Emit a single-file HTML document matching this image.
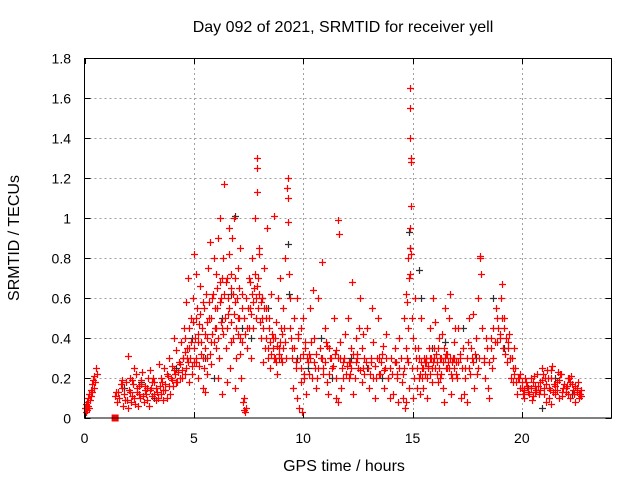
<!DOCTYPE html>
<html><head><meta charset="utf-8"><style>
body{margin:0;background:#fff;}
svg text{font-family:"Liberation Sans",sans-serif;font-size:14px;fill:#000;}
svg text.big{font-size:16px;}
</style></head><body>
<svg id="chart" width="640" height="480" viewBox="0 0 640 480" xmlns="http://www.w3.org/2000/svg">
<rect width="640" height="480" fill="#fff"/>
<text class="big" x="343" y="32" text-anchor="middle">Day 092 of 2021, SRMTID for receiver yell</text>
<text class="big" x="344" y="471" text-anchor="middle">GPS time / hours</text>
<text class="big" transform="translate(19,238) rotate(-90)" text-anchor="middle">SRMTID / TECUs</text>
<g id="grid"></g><g id="ticks"></g><g id="marks"></g>
<rect x="84.5" y="58.5" width="527" height="359.5" fill="none" stroke="#000" stroke-width="1"/>
</svg>
<script>
const xTicks=[0,5,10,15,20];
const yTicks=[0,0.2,0.4,0.6,0.8,1,1.2,1.4,1.6,1.8];
const yTickLabels=["0","0.2","0.4","0.6","0.8","1","1.2","1.4","1.6","1.8"];
const redHours=[0.02,0.05,0.08,0.1,0.12,0.15,0.18,0.2,0.22,0.25,0.28,0.3,0.33,0.36,0.4,0.42,0.45,0.5,0.52,0.55,
1.4,1.5,1.55,1.6,1.7,1.75,1.8,1.9,1.95,2.0,2.05,2.1,2.15,2.2,2.3,2.35,2.4,2.5,2.55,2.6,2.7,2.75,2.8,2.9,2.95,3.0,3.05,3.1,3.2,3.25,3.3,3.4,3.45,3.5,2.0,2.25,2.45,2.65,2.85,3.15,
3.55,3.6,3.65,3.7,3.8,3.85,3.9,3.95,4.0,4.05,4.1,4.15,4.2,4.25,4.3,4.35,4.4,4.45,4.5,3.75,
4.55,4.6,4.65,4.7,4.75,4.8,4.85,4.9,4.95,5.0,5.05,5.1,5.15,5.2,5.25,5.3,5.35,5.4,5.45,5.5,5.55,5.6,5.65,5.7,5.75,5.8,5.85,5.9,5.95,6.0,4.6,4.8,5.0,5.2,5.4,5.6,5.8,6.0,5.1,5.5,
6.05,6.1,6.15,6.2,6.25,6.3,6.35,6.4,6.45,6.5,6.55,6.6,6.65,6.7,6.75,6.8,6.85,6.9,6.95,7.0,7.05,7.1,7.15,7.2,7.25,7.3,7.35,7.4,7.45,7.5,6.1,6.3,6.5,6.7,6.9,7.1,7.3,6.2,6.6,7.0,
7.55,7.6,7.65,7.7,7.75,7.8,7.85,7.9,7.95,8.0,8.05,8.1,8.15,8.2,8.25,8.3,8.35,8.4,8.45,8.5,8.55,8.6,8.65,8.7,8.75,8.8,8.85,8.9,8.95,9.0,9.05,9.1,9.15,9.2,9.25,9.3,9.35,9.4,9.45,7.9,7.9,9.3,9.3,8.0,
9.5,9.55,9.6,9.65,9.7,9.75,9.8,9.85,9.9,9.95,10.0,10.05,10.1,10.15,10.2,10.3,10.4,10.5,10.6,10.7,10.8,10.9,11.0,11.1,11.2,11.3,11.4,11.5,11.6,11.65,11.7,11.8,11.9,12.0,9.7,9.9,10.25,10.55,10.85,11.15,11.45,11.75,10.45,11.05,11.6,
12.05,12.1,12.2,12.3,12.4,12.5,12.6,12.7,12.8,12.9,13.0,13.1,13.2,13.3,13.4,13.5,13.6,13.7,13.8,13.9,14.0,14.1,14.2,14.3,14.4,14.5,12.15,12.45,12.75,13.05,13.35,13.65,13.95,14.25,12.55,13.15,13.75,14.35,12.25,13.45,
14.55,14.6,14.65,14.7,14.75,14.8,14.85,14.9,14.9,14.9,14.92,14.92,14.95,15.0,15.05,15.1,15.15,15.2,14.6,14.7,14.8,14.85,14.95,15.0,15.1,14.75,14.88,14.9,14.9,14.97,
15.25,15.3,15.4,15.5,15.6,15.7,15.8,15.9,16.0,16.1,16.2,16.3,16.4,16.5,16.6,16.7,16.8,16.9,17.0,15.35,15.55,15.75,15.95,16.15,16.35,16.55,16.75,16.95,15.45,15.85,16.25,16.65,16.45,16.05,15.65,16.85,
17.05,17.1,17.2,17.3,17.4,17.5,17.6,17.7,17.8,17.9,18.0,18.05,18.1,18.15,18.2,18.3,18.4,18.5,18.6,18.7,18.8,18.9,19.0,19.05,19.1,19.15,19.2,19.3,19.4,19.5,17.15,17.35,17.55,17.75,17.95,18.25,18.45,18.65,18.85,19.25,19.45,18.1,17.65,19.35,
19.55,19.6,19.7,19.8,19.9,20.0,20.1,20.2,20.3,20.4,20.5,20.6,20.7,20.8,20.9,21.0,21.1,21.2,21.3,21.4,21.5,21.6,21.7,21.8,21.9,22.0,22.1,22.2,22.3,22.4,22.5,22.6,22.7,19.65,19.85,20.05,20.25,20.45,20.65,20.85,21.05,21.25,21.45,21.65,21.85,22.05,22.25,22.45,22.65,21.35];
const redTecu=[0.05,0.03,0.07,0.04,0.08,0.06,0.1,0.05,0.12,0.09,0.14,0.11,0.17,0.13,0.19,0.15,0.21,0.18,0.25,0.22,
0.11,0.08,0.13,0.1,0.15,0.06,0.12,0.18,0.09,0.31,0.14,0.2,0.11,0.17,0.07,0.22,0.13,0.16,0.1,0.19,0.08,0.14,0.12,0.2,0.06,0.24,0.15,0.11,0.18,0.09,0.13,0.27,0.16,0.12,0.05,0.25,0.06,0.23,0.15,0.2,
0.18,0.09,0.25,0.14,0.21,0.3,0.12,0.2,0.26,0.16,0.4,0.22,0.34,0.18,0.28,0.2,0.38,0.24,0.3,0.1,
0.45,0.22,0.58,0.3,0.7,0.35,0.5,0.26,0.6,0.82,0.4,0.28,0.55,0.2,0.47,0.66,0.32,0.58,0.25,0.42,0.62,0.3,0.75,0.5,0.88,0.38,0.6,0.8,0.45,0.72,0.33,0.18,0.28,0.38,0.15,0.22,0.27,0.35,0.72,0.13,
0.55,0.9,0.3,1.0,0.6,0.45,0.8,1.17,0.35,0.7,0.52,0.95,0.25,0.65,0.9,0.4,1.0,0.58,0.3,0.75,0.5,0.85,0.2,0.62,0.08,0.04,0.03,0.05,0.45,0.7,0.2,0.12,0.18,0.38,0.15,0.32,0.1,0.68,0.82,0.42,
0.55,0.3,0.8,0.45,0.65,1.0,0.5,1.3,0.7,0.85,0.4,0.6,0.28,0.75,0.35,0.55,0.95,0.3,0.5,0.25,0.62,0.4,1.01,0.3,0.48,0.22,0.6,0.35,0.7,0.45,0.28,0.55,0.8,0.3,1.15,1.2,0.72,0.6,0.4,1.25,1.13,1.1,0.98,0.82,
0.35,0.15,0.5,0.25,0.1,0.42,0.05,0.3,0.18,0.03,0.5,0.2,0.38,0.12,0.28,0.55,0.2,0.4,0.15,0.6,0.3,0.22,0.45,0.18,0.35,0.25,0.5,0.1,0.99,0.92,0.3,0.2,0.42,0.26,0.6,0.45,0.32,0.25,0.78,0.12,0.32,0.15,0.64,0.38,0.08,
0.5,0.2,0.35,0.12,0.4,0.25,0.6,0.18,0.3,0.45,0.15,0.28,0.38,0.1,0.5,0.22,0.32,0.15,0.42,0.2,0.3,0.12,0.35,0.22,0.4,0.18,0.28,0.32,0.42,0.22,0.2,0.36,0.1,0.28,0.45,0.55,0.25,0.08,0.68,0.3,
0.1,0.5,0.05,0.62,0.3,0.8,0.15,1.65,1.55,1.4,1.3,1.28,1.06,0.4,0.2,0.6,0.3,0.15,0.25,0.08,0.45,0.7,0.82,0.1,0.35,0.58,0.95,0.85,0.72,0.5,
0.35,0.2,0.5,0.15,0.3,0.25,0.45,0.18,0.35,0.22,0.4,0.3,0.15,0.55,0.25,0.62,0.2,0.38,0.28,0.12,0.28,0.35,0.6,0.18,0.42,0.32,0.12,0.45,0.25,0.3,0.2,0.5,0.08,0.48,0.1,0.3,
0.2,0.45,0.1,0.35,0.25,0.08,0.5,0.3,0.15,0.4,0.6,0.3,0.8,0.72,0.45,0.2,0.35,0.1,0.4,0.3,0.55,0.45,0.4,0.6,0.67,0.35,0.5,0.28,0.42,0.2,0.32,0.12,0.38,0.52,0.22,0.28,0.15,0.25,0.38,0.32,0.3,0.81,0.22,0.38,
0.3,0.18,0.25,0.12,0.22,0.15,0.1,0.18,0.13,0.2,0.11,0.16,0.22,0.12,0.25,0.15,0.08,0.2,0.14,0.26,0.12,0.18,0.1,0.22,0.15,0.13,0.2,0.1,0.17,0.12,0.15,0.1,0.14,0.35,0.2,0.12,0.16,0.09,0.14,0.18,0.2,0.1,0.17,0.23,0.11,0.16,0.21,0.08,0.12,0.07];
const redHoursB=[1.45,1.65,1.85,2.08,2.18,2.28,2.38,2.48,2.58,2.68,2.78,2.88,2.98,3.08,3.18,3.28,3.38,3.48,3.58,3.68,3.78,3.88,3.98,4.08,4.18,4.28,4.38,4.48,1.72,2.12,
4.52,4.58,4.62,4.68,4.72,4.78,4.82,4.88,4.92,4.98,5.02,5.08,5.12,5.18,5.22,5.28,5.32,5.38,5.42,5.48,5.52,5.58,5.62,5.68,5.72,5.78,5.82,5.88,5.92,5.98,6.02,6.08,6.12,6.18,6.22,6.28,6.32,6.38,6.42,6.48,6.52,6.58,6.62,6.68,6.72,6.78,6.82,6.88,6.92,6.98,7.02,7.08,7.12,7.18,7.22,7.28,7.32,7.38,7.42,7.48,7.52,7.58,7.62,7.68,7.72,7.78,7.82,7.88,7.92,7.98,8.02,8.08,8.12,8.18,8.22,8.28,8.32,8.38,8.42,8.48,8.52,8.58,8.62,8.68,8.72,8.78,8.82,8.88,8.92,8.98,
9.02,9.08,9.12,9.18,9.42,9.48,9.58,9.68,9.78,9.88,9.98,10.08,10.18,10.28,10.38,10.48,10.58,10.68,10.78,10.88,10.98,11.08,11.18,11.28,11.38,11.48,11.58,11.68,11.78,11.88,11.98,12.08,12.18,12.28,12.38,12.48,12.58,12.68,12.78,12.88,12.98,13.08,13.18,13.28,13.38,13.48,13.58,13.68,13.78,13.88,13.98,14.08,14.18,14.28,14.38,14.48,14.58,14.68,14.78,14.98,10.02,10.32,10.62,10.92,11.22,11.52,11.82,12.12,12.42,12.72,
15.22,15.28,15.32,15.38,15.42,15.48,15.52,15.58,15.62,15.68,15.72,15.78,15.82,15.88,15.92,15.98,16.02,16.08,16.12,16.18,16.22,16.28,16.32,16.38,16.42,16.48,16.52,16.58,16.62,16.68,16.72,16.78,16.82,16.88,16.92,16.98,17.08,17.18,17.28,17.38,17.48,17.58,17.68,17.78,17.88,17.98,18.28,18.38,18.48,18.58,18.68,18.78,18.88,18.98,19.08,19.18,19.28,19.38,19.48,19.58,
19.62,19.72,19.82,19.92,20.02,20.12,20.22,20.32,20.42,20.52,20.62,20.72,20.82,20.92,21.02,21.12,21.22,21.32,21.42,21.52,21.62,21.72,21.82,21.92,22.02,22.12,22.22,22.32,22.42,22.52,22.62,22.72,20.15,20.55,20.95,21.35,21.75,22.15,22.55,21.15];
const redTecuB=[0.13,0.17,0.09,0.13,0.19,0.1,0.15,0.12,0.17,0.11,0.16,0.09,0.14,0.18,0.12,0.15,0.1,0.2,0.14,0.17,0.22,0.16,0.19,0.24,0.18,0.23,0.27,0.2,0.19,0.08,
0.3,0.4,0.25,0.35,0.28,0.45,0.3,0.38,0.22,0.48,0.35,0.5,0.3,0.42,0.26,0.52,0.38,0.45,0.3,0.55,0.35,0.48,0.4,0.58,0.32,0.5,0.42,0.62,0.38,0.55,0.45,0.65,0.4,0.58,0.48,0.7,0.42,0.62,0.5,0.68,0.45,0.6,0.55,0.72,0.48,0.62,0.52,0.7,0.45,0.6,0.5,0.65,0.4,0.55,0.38,0.5,0.42,0.6,0.35,0.55,0.45,0.68,0.52,0.62,0.58,0.72,0.6,0.66,0.55,0.62,0.48,0.58,0.5,0.45,0.55,0.4,0.5,0.35,0.45,0.38,0.32,0.42,0.35,0.3,0.4,0.28,0.36,0.32,0.38,0.3,
0.42,0.35,0.45,0.38,0.45,0.3,0.35,0.28,0.4,0.25,0.32,0.35,0.3,0.22,0.38,0.28,0.32,0.25,0.35,0.3,0.28,0.36,0.22,0.3,0.26,0.34,0.3,0.38,0.25,0.3,0.22,0.28,0.25,0.32,0.2,0.3,0.24,0.35,0.22,0.28,0.25,0.3,0.2,0.26,0.3,0.22,0.28,0.24,0.3,0.2,0.25,0.22,0.28,0.2,0.25,0.3,0.22,0.35,0.28,0.25,0.22,0.3,0.2,0.25,0.3,0.2,0.28,0.22,0.28,0.25,
0.25,0.3,0.22,0.28,0.2,0.25,0.3,0.22,0.28,0.2,0.26,0.3,0.22,0.25,0.28,0.3,0.25,0.32,0.28,0.35,0.25,0.3,0.22,0.28,0.35,0.3,0.25,0.32,0.28,0.25,0.3,0.22,0.28,0.3,0.25,0.22,0.28,0.3,0.25,0.2,0.3,0.25,0.35,0.28,0.32,0.25,0.3,0.4,0.28,0.35,0.45,0.38,0.5,0.42,0.5,0.45,0.4,0.35,0.3,0.25,
0.22,0.18,0.2,0.15,0.18,0.14,0.16,0.12,0.15,0.18,0.13,0.16,0.14,0.19,0.12,0.17,0.15,0.2,0.13,0.16,0.14,0.19,0.13,0.17,0.15,0.12,0.18,0.14,0.16,0.13,0.12,0.11,0.2,0.21,0.22,0.24,0.22,0.2,0.18,0.24];
const blackHours=[0.1,1.8,2.6,3.2,4.2,4.9,5.5,5.9,6.3,6.7,6.9,7.2,7.6,8.1,8.4,8.9,9.3,9.35,9.7,10.2,10.8,11.3,12.2,12.9,13.6,14.2,14.85,14.9,15.3,15.4,15.9,16.5,17.3,17.9,18.7,19.2,20.3,20.9,21.5,22.3];
const blackTecu=[0.06,0.15,0.18,0.1,0.25,0.4,0.3,0.2,0.5,0.62,1.01,0.45,0.4,0.6,0.55,0.3,0.87,0.62,0.3,0.25,0.4,0.2,0.3,0.25,0.2,0.28,0.93,0.85,0.74,0.6,0.35,0.38,0.45,0.3,0.6,0.35,0.15,0.05,0.2,0.12];
const squareHours=[1.4];
const squareTecu=[0];

const NS="http://www.w3.org/2000/svg";
const X0=84.5,XR=611.5,Y0=418,YT=58,XMAX=24.1,YMAX=1.8;
function sx(v){return X0+v*(XR-X0)/XMAX;}
function sy(v){return Y0-v*(Y0-YT)/YMAX;}
function mk(tag,attrs,parent){const e=document.createElementNS(NS,tag);for(const k in attrs)e.setAttribute(k,attrs[k]);parent.appendChild(e);return e;}
const grid=document.getElementById('grid'),ticks=document.getElementById('ticks'),marks=document.getElementById('marks');
xTicks.forEach((t,i)=>{
  const x=Math.round(sx(t))+0.5;
  if(t>0){const g=mk('line',{x1:x,x2:x,y1:YT,y2:Y0,stroke:'#a0a0a0','stroke-dasharray':'2,3'},grid);
  
  }
  mk('line',{x1:x,x2:x,y1:Y0,y2:Y0-6,stroke:'#000'},ticks);
  mk('line',{x1:x,x2:x,y1:YT,y2:YT+6,stroke:'#000'},ticks);
  const tx=mk('text',{x:sx(t),y:443,'text-anchor':'middle'},ticks);
  tx.textContent=String(t);
  
  
});
yTicks.forEach((t,i)=>{
  const y=Math.round(sy(t))+0.5;
  if(t>0){const g=mk('line',{x1:X0,x2:XR,y1:y,y2:y,stroke:'#a0a0a0','stroke-dasharray':'2,3'},grid);
  
  }
  mk('line',{x1:X0,x2:X0+6,y1:y,y2:y,stroke:'#000'},ticks);
  mk('line',{x1:XR,x2:XR-6,y1:y,y2:y,stroke:'#000'},ticks);
  const tx=mk('text',{x:71,y:y+5,'text-anchor':'end'},ticks);
  tx.textContent=yTickLabels[i];
  
  
});
function plus(h,v,color,name){
  if(h===undefined||v===undefined)return;
  const x=Math.round(sx(h))+0.5,y=Math.round(sy(v))+0.5;
  const p=mk('path',{d:`M${x-3.5},${y}H${x+3.5}M${x},${y-3.5}V${y+3.5}`,stroke:color,'stroke-width':1.2,fill:'none'},marks);
  
  
}
blackHours.forEach((h,i)=>plus(h,blackTecu[i],'#303030','black-point'));
redHoursB.forEach((h,i)=>plus(h,redTecuB[i],'#ff0000','red-point'));
redHours.forEach((h,i)=>plus(h,redTecu[i],'#ff0000','red-point'));
squareHours.forEach((h,i)=>{
  const s=mk('rect',{x:sx(h)-3.5,y:sy(squareTecu[i])-3.5,width:7,height:7,fill:'#ff0000'},marks);
  
  
});
</script>
</body></html>
